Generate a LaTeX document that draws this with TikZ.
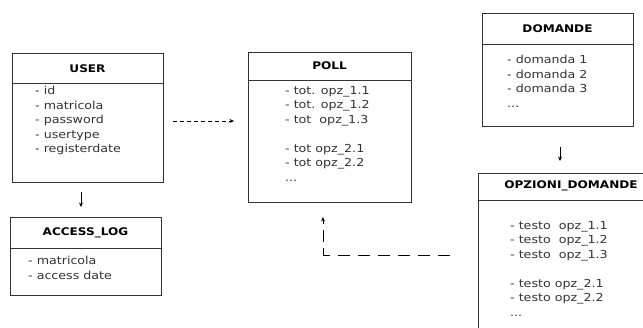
\documentclass[tikz,border=0pt]{standalone}
\usepackage{fontspec}
\setmainfont{DejaVu Sans}[FakeStretch=1.15]
\usetikzlibrary{arrows.meta}
\tikzset{
  boxline/.style={draw=black!80, line width=0.9pt},
  ttl/.style={font=\fontsize{10.5}{13}\selectfont\bfseries, anchor=center, inner sep=0pt},
  items/.style={font=\fontsize{11}{14.5}\selectfont, anchor=north west, align=left, inner sep=0pt, text=black!80},
  arr/.style={line width=0.9pt, -{Stealth[length=4.5pt,width=4pt]}},
}
\begin{document}
\begin{tikzpicture}[x=1pt,y=-1pt]
\useasboundingbox (0,0) rectangle (643,327);
\fill[white] (0,0) rectangle (643,327);
\begin{scope}
\clip (0,0) rectangle (643,327);
% USER
\node[boxline, rectangle, minimum width=151pt, minimum height=129pt, inner sep=0pt] (user) at (87.5,117.5) {};
\draw[boxline] (12,83) -- (163,83);
\node[ttl] (usert) at (87.5,69) {USER};
\node[items] (useri) at (35,86) {- id\\- matricola\\- password\\- usertype\\- registerdate};
% ACCESS_LOG
\node[boxline, rectangle, minimum width=151pt, minimum height=78pt, inner sep=0pt] (alog) at (85.5,256) {};
\draw[boxline] (10,248) -- (161,248);
\node[ttl] (alogt) at (85.5,233) {ACCESS\_LOG};
\node[items] (alogi) at (28,256) {- matricola\\- access date};
% POLL
\node[boxline, rectangle, minimum width=163pt, minimum height=150pt, inner sep=0pt] (poll) at (329.5,127) {};
\draw[boxline] (248,80) -- (411,80);
\node[ttl] (pollt) at (329.5,66) {POLL};
\node[items] (polli) at (285,86) {- tot. opz\_1.1\\- tot. opz\_1.2\\- tot~~opz\_1.3\\[14.5pt]- tot opz\_2.1\\- tot opz\_2.2\\...};
% DOMANDE
\node[boxline, rectangle, minimum width=151pt, minimum height=113pt, inner sep=0pt] (dom) at (557.5,69.5) {};
\draw[boxline] (482,44) -- (633,44);
\node[ttl] (domt) at (557.5,29) {DOMANDE};
\node[items] (domi) at (507,55) {- domanda 1\\- domanda 2\\- domanda 3\\...};
% OPZIONI_DOMANDE
\node[boxline, rectangle, minimum width=172pt, minimum height=170pt, inner sep=0pt] (opz) at (564,258) {};
\draw[boxline] (478,200) -- (650,200);
\node[ttl] (opzt) at (571,186) {OPZIONI\_DOMANDE};
\node[items] (opzi) at (510,221) {- testo~~opz\_1.1\\- testo~~opz\_1.2\\- testo~~opz\_1.3\\[14.5pt]- testo opz\_2.1\\- testo opz\_2.2\\...};
\end{scope}
% connectors
\coordinate (a1) at (173,121);
\coordinate (a2) at (234,121);
\draw[arr, dash pattern=on 4pt off 3pt] (a1) -- (a2);
\coordinate (b1) at (81,192);
\coordinate (b2) at (81,207);
\draw[arr] (b1) -- (b2);
\coordinate (c1) at (560,147);
\coordinate (c2) at (560,161);
\draw[arr] (c1) -- (c2);
\coordinate (d1) at (455,255);
\coordinate (d2) at (323,255);
\coordinate (d3) at (323,217);
\draw[line width=0.9pt, dash pattern=on 12pt off 8pt, dash phase=5pt] (d2) -- (d1);
\draw[arr, dash pattern=on 7pt off 6pt on 12pt off 6pt on 30pt] (d2) -- (d3);
\end{tikzpicture}
\end{document}
